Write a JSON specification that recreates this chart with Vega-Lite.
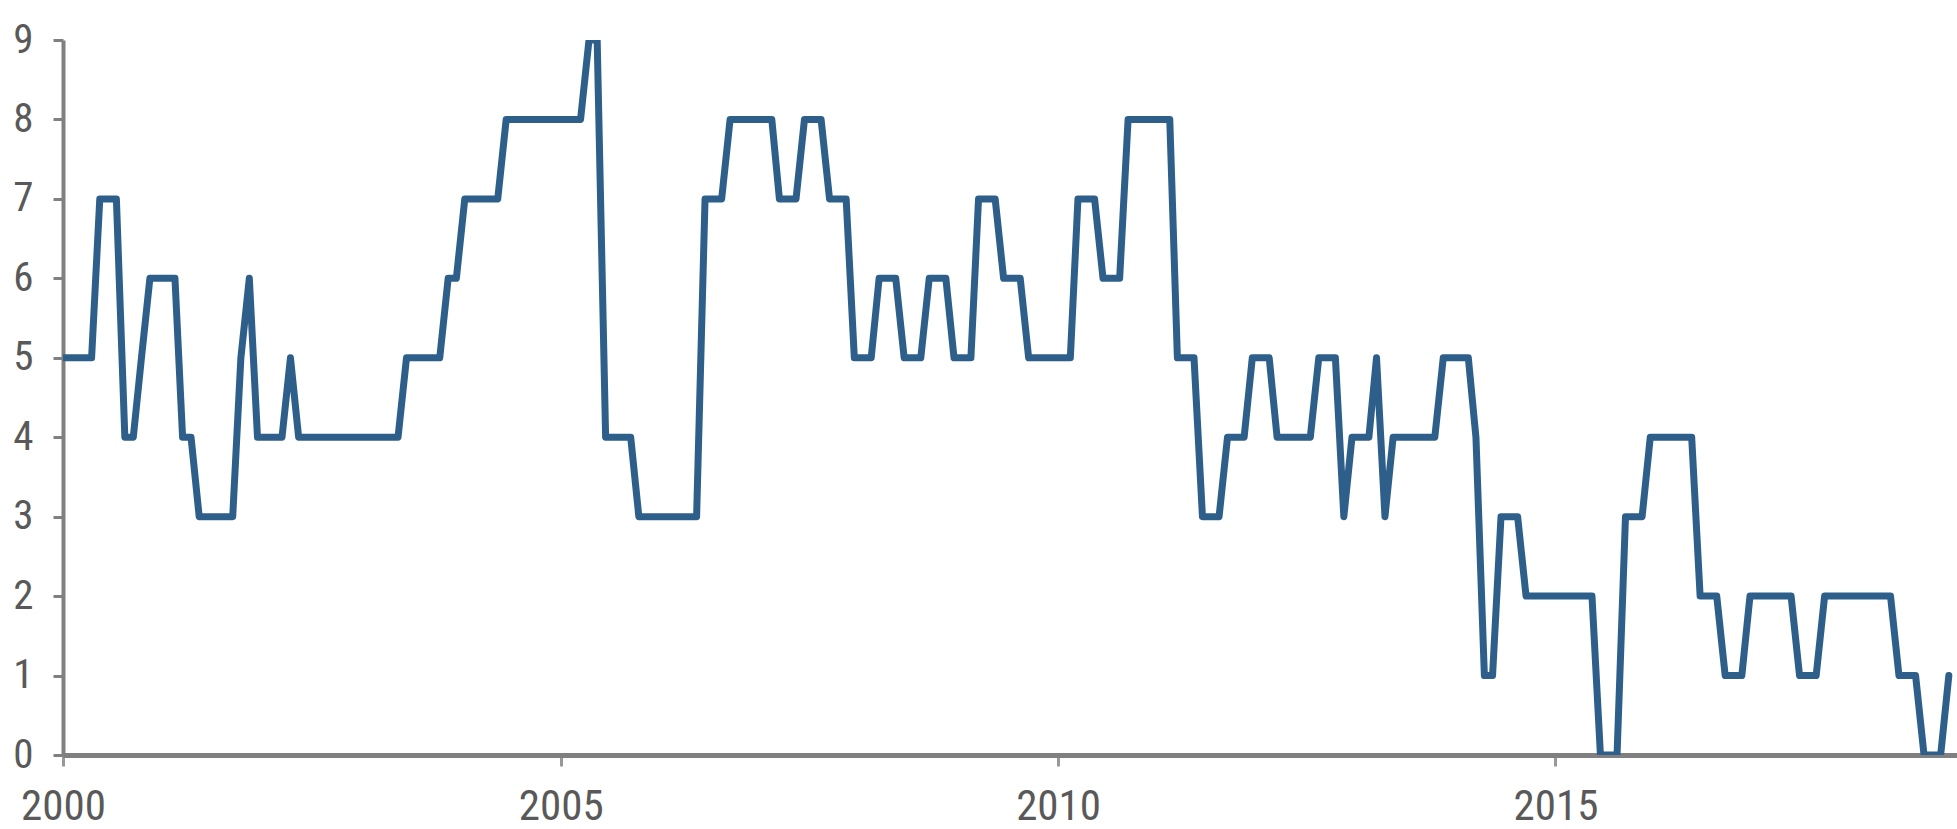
{
"$schema":"https://vega.github.io/schema/vega-lite/v6.json",
"width":1894,"height":715,
"autosize":{"type":"none"},
"padding":{"left":63,"top":40,"right":0,"bottom":74},
"background":"white",
"config":{"view":{"stroke":null},"axis":{"labelFont":"Roboto Condensed, DejaVu Sans Condensed, Liberation Sans Narrow, Liberation Sans, sans-serif"}},
"data":{"values":[
{"date":"1999-12-15","value":5},
{"date":"2000-01-15","value":5},{"date":"2000-02-15","value":5},{"date":"2000-03-15","value":5},{"date":"2000-04-15","value":5},{"date":"2000-05-15","value":7},{"date":"2000-06-15","value":7},{"date":"2000-07-15","value":7},{"date":"2000-08-15","value":4},{"date":"2000-09-15","value":4},{"date":"2000-10-15","value":5},{"date":"2000-11-15","value":6},{"date":"2000-12-15","value":6},
{"date":"2001-01-15","value":6},{"date":"2001-02-15","value":6},{"date":"2001-03-15","value":4},{"date":"2001-04-15","value":4},{"date":"2001-05-15","value":3},{"date":"2001-06-15","value":3},{"date":"2001-07-15","value":3},{"date":"2001-08-15","value":3},{"date":"2001-09-15","value":3},{"date":"2001-10-15","value":5},{"date":"2001-11-15","value":6},{"date":"2001-12-15","value":4},
{"date":"2002-01-15","value":4},{"date":"2002-02-15","value":4},{"date":"2002-03-15","value":4},{"date":"2002-04-15","value":5},{"date":"2002-05-15","value":4},{"date":"2002-06-15","value":4},{"date":"2002-07-15","value":4},{"date":"2002-08-15","value":4},{"date":"2002-09-15","value":4},{"date":"2002-10-15","value":4},{"date":"2002-11-15","value":4},{"date":"2002-12-15","value":4},
{"date":"2003-01-15","value":4},{"date":"2003-02-15","value":4},{"date":"2003-03-15","value":4},{"date":"2003-04-15","value":4},{"date":"2003-05-15","value":4},{"date":"2003-06-15","value":5},{"date":"2003-07-15","value":5},{"date":"2003-08-15","value":5},{"date":"2003-09-15","value":5},{"date":"2003-10-15","value":5},{"date":"2003-11-15","value":6},{"date":"2003-12-15","value":6},
{"date":"2004-01-15","value":7},{"date":"2004-02-15","value":7},{"date":"2004-03-15","value":7},{"date":"2004-04-15","value":7},{"date":"2004-05-15","value":7},{"date":"2004-06-15","value":8},{"date":"2004-07-15","value":8},{"date":"2004-08-15","value":8},{"date":"2004-09-15","value":8},{"date":"2004-10-15","value":8},{"date":"2004-11-15","value":8},{"date":"2004-12-15","value":8},
{"date":"2005-01-15","value":8},{"date":"2005-02-15","value":8},{"date":"2005-03-15","value":8},{"date":"2005-04-15","value":9},{"date":"2005-05-15","value":9},{"date":"2005-06-15","value":4},{"date":"2005-07-15","value":4},{"date":"2005-08-15","value":4},{"date":"2005-09-15","value":4},{"date":"2005-10-15","value":3},{"date":"2005-11-15","value":3},{"date":"2005-12-15","value":3},
{"date":"2006-01-15","value":3},{"date":"2006-02-15","value":3},{"date":"2006-03-15","value":3},{"date":"2006-04-15","value":3},{"date":"2006-05-15","value":3},{"date":"2006-06-15","value":7},{"date":"2006-07-15","value":7},{"date":"2006-08-15","value":7},{"date":"2006-09-15","value":8},{"date":"2006-10-15","value":8},{"date":"2006-11-15","value":8},{"date":"2006-12-15","value":8},
{"date":"2007-01-15","value":8},{"date":"2007-02-15","value":8},{"date":"2007-03-15","value":7},{"date":"2007-04-15","value":7},{"date":"2007-05-15","value":7},{"date":"2007-06-15","value":8},{"date":"2007-07-15","value":8},{"date":"2007-08-15","value":8},{"date":"2007-09-15","value":7},{"date":"2007-10-15","value":7},{"date":"2007-11-15","value":7},{"date":"2007-12-15","value":5},
{"date":"2008-01-15","value":5},{"date":"2008-02-15","value":5},{"date":"2008-03-15","value":6},{"date":"2008-04-15","value":6},{"date":"2008-05-15","value":6},{"date":"2008-06-15","value":5},{"date":"2008-07-15","value":5},{"date":"2008-08-15","value":5},{"date":"2008-09-15","value":6},{"date":"2008-10-15","value":6},{"date":"2008-11-15","value":6},{"date":"2008-12-15","value":5},
{"date":"2009-01-15","value":5},{"date":"2009-02-15","value":5},{"date":"2009-03-15","value":7},{"date":"2009-04-15","value":7},{"date":"2009-05-15","value":7},{"date":"2009-06-15","value":6},{"date":"2009-07-15","value":6},{"date":"2009-08-15","value":6},{"date":"2009-09-15","value":5},{"date":"2009-10-15","value":5},{"date":"2009-11-15","value":5},{"date":"2009-12-15","value":5},
{"date":"2010-01-15","value":5},{"date":"2010-02-15","value":5},{"date":"2010-03-15","value":7},{"date":"2010-04-15","value":7},{"date":"2010-05-15","value":7},{"date":"2010-06-15","value":6},{"date":"2010-07-15","value":6},{"date":"2010-08-15","value":6},{"date":"2010-09-15","value":8},{"date":"2010-10-15","value":8},{"date":"2010-11-15","value":8},{"date":"2010-12-15","value":8},
{"date":"2011-01-15","value":8},{"date":"2011-02-15","value":8},{"date":"2011-03-15","value":5},{"date":"2011-04-15","value":5},{"date":"2011-05-15","value":5},{"date":"2011-06-15","value":3},{"date":"2011-07-15","value":3},{"date":"2011-08-15","value":3},{"date":"2011-09-15","value":4},{"date":"2011-10-15","value":4},{"date":"2011-11-15","value":4},{"date":"2011-12-15","value":5},
{"date":"2012-01-15","value":5},{"date":"2012-02-15","value":5},{"date":"2012-03-15","value":4},{"date":"2012-04-15","value":4},{"date":"2012-05-15","value":4},{"date":"2012-06-15","value":4},{"date":"2012-07-15","value":4},{"date":"2012-08-15","value":5},{"date":"2012-09-15","value":5},{"date":"2012-10-15","value":5},{"date":"2012-11-15","value":3},{"date":"2012-12-15","value":4},
{"date":"2013-01-15","value":4},{"date":"2013-02-15","value":4},{"date":"2013-03-15","value":5},{"date":"2013-04-15","value":3},{"date":"2013-05-15","value":4},{"date":"2013-06-15","value":4},{"date":"2013-07-15","value":4},{"date":"2013-08-15","value":4},{"date":"2013-09-15","value":4},{"date":"2013-10-15","value":4},{"date":"2013-11-15","value":5},{"date":"2013-12-15","value":5},
{"date":"2014-01-15","value":5},{"date":"2014-02-15","value":5},{"date":"2014-03-15","value":4},{"date":"2014-04-15","value":1},{"date":"2014-05-15","value":1},{"date":"2014-06-15","value":3},{"date":"2014-07-15","value":3},{"date":"2014-08-15","value":3},{"date":"2014-09-15","value":2},{"date":"2014-10-15","value":2},{"date":"2014-11-15","value":2},{"date":"2014-12-15","value":2},
{"date":"2015-01-15","value":2},{"date":"2015-02-15","value":2},{"date":"2015-03-15","value":2},{"date":"2015-04-15","value":2},{"date":"2015-05-15","value":2},{"date":"2015-06-15","value":0},{"date":"2015-07-15","value":0},{"date":"2015-08-15","value":0},{"date":"2015-09-15","value":3},{"date":"2015-10-15","value":3},{"date":"2015-11-15","value":3},{"date":"2015-12-15","value":4},
{"date":"2016-01-15","value":4},{"date":"2016-02-15","value":4},{"date":"2016-03-15","value":4},{"date":"2016-04-15","value":4},{"date":"2016-05-15","value":4},{"date":"2016-06-15","value":2},{"date":"2016-07-15","value":2},{"date":"2016-08-15","value":2},{"date":"2016-09-15","value":1},{"date":"2016-10-15","value":1},{"date":"2016-11-15","value":1},{"date":"2016-12-15","value":2},
{"date":"2017-01-15","value":2},{"date":"2017-02-15","value":2},{"date":"2017-03-15","value":2},{"date":"2017-04-15","value":2},{"date":"2017-05-15","value":2},{"date":"2017-06-15","value":1},{"date":"2017-07-15","value":1},{"date":"2017-08-15","value":1},{"date":"2017-09-15","value":2},{"date":"2017-10-15","value":2},{"date":"2017-11-15","value":2},{"date":"2017-12-15","value":2},
{"date":"2018-01-15","value":2},{"date":"2018-02-15","value":2},{"date":"2018-03-15","value":2},{"date":"2018-04-15","value":2},{"date":"2018-05-15","value":2},{"date":"2018-06-15","value":1},{"date":"2018-07-15","value":1},{"date":"2018-08-15","value":1},{"date":"2018-09-15","value":0},{"date":"2018-10-15","value":0},{"date":"2018-11-15","value":0},{"date":"2018-12-15","value":1}
]},
"mark":{"type":"line","color":"#2e5f8a","strokeWidth":7,"strokeJoin":"round","strokeCap":"round","clip":true},
"encoding":{
"x":{"field":"date","type":"temporal",
"scale":{"type":"utc","domain":[{"year":2000,"month":1,"date":1,"utc":true},{"year":2019,"month":1,"date":14,"utc":true}]},
"axis":{"title":null,"grid":false,
"values":[{"year":2000,"month":1,"date":1,"utc":true},{"year":2005,"month":1,"date":1,"utc":true},{"year":2010,"month":1,"date":1,"utc":true},{"year":2015,"month":1,"date":1,"utc":true}],
"labelExpr":"utcFormat(datum.value,'%Y')",
"domainColor":"#808080","domainWidth":5,"tickColor":"#999999","tickWidth":3,"tickSize":11,
"labelFontSize":43,"labelColor":"#595959","labelPadding":19,"labelDx":4,"labelFlush":false,"labelOverlap":false}},
"y":{"field":"value","type":"quantitative",
"scale":{"domain":[0,9],"nice":false,"zero":true},
"axis":{"title":null,"grid":false,"values":[0,1,2,3,4,5,6,7,8,9],
"domainColor":"#808080","domainWidth":4,"tickColor":"#808080","tickWidth":3,"tickSize":10,
"labelFontSize":41,"labelColor":"#595959","labelPadding":20}}
}
}
